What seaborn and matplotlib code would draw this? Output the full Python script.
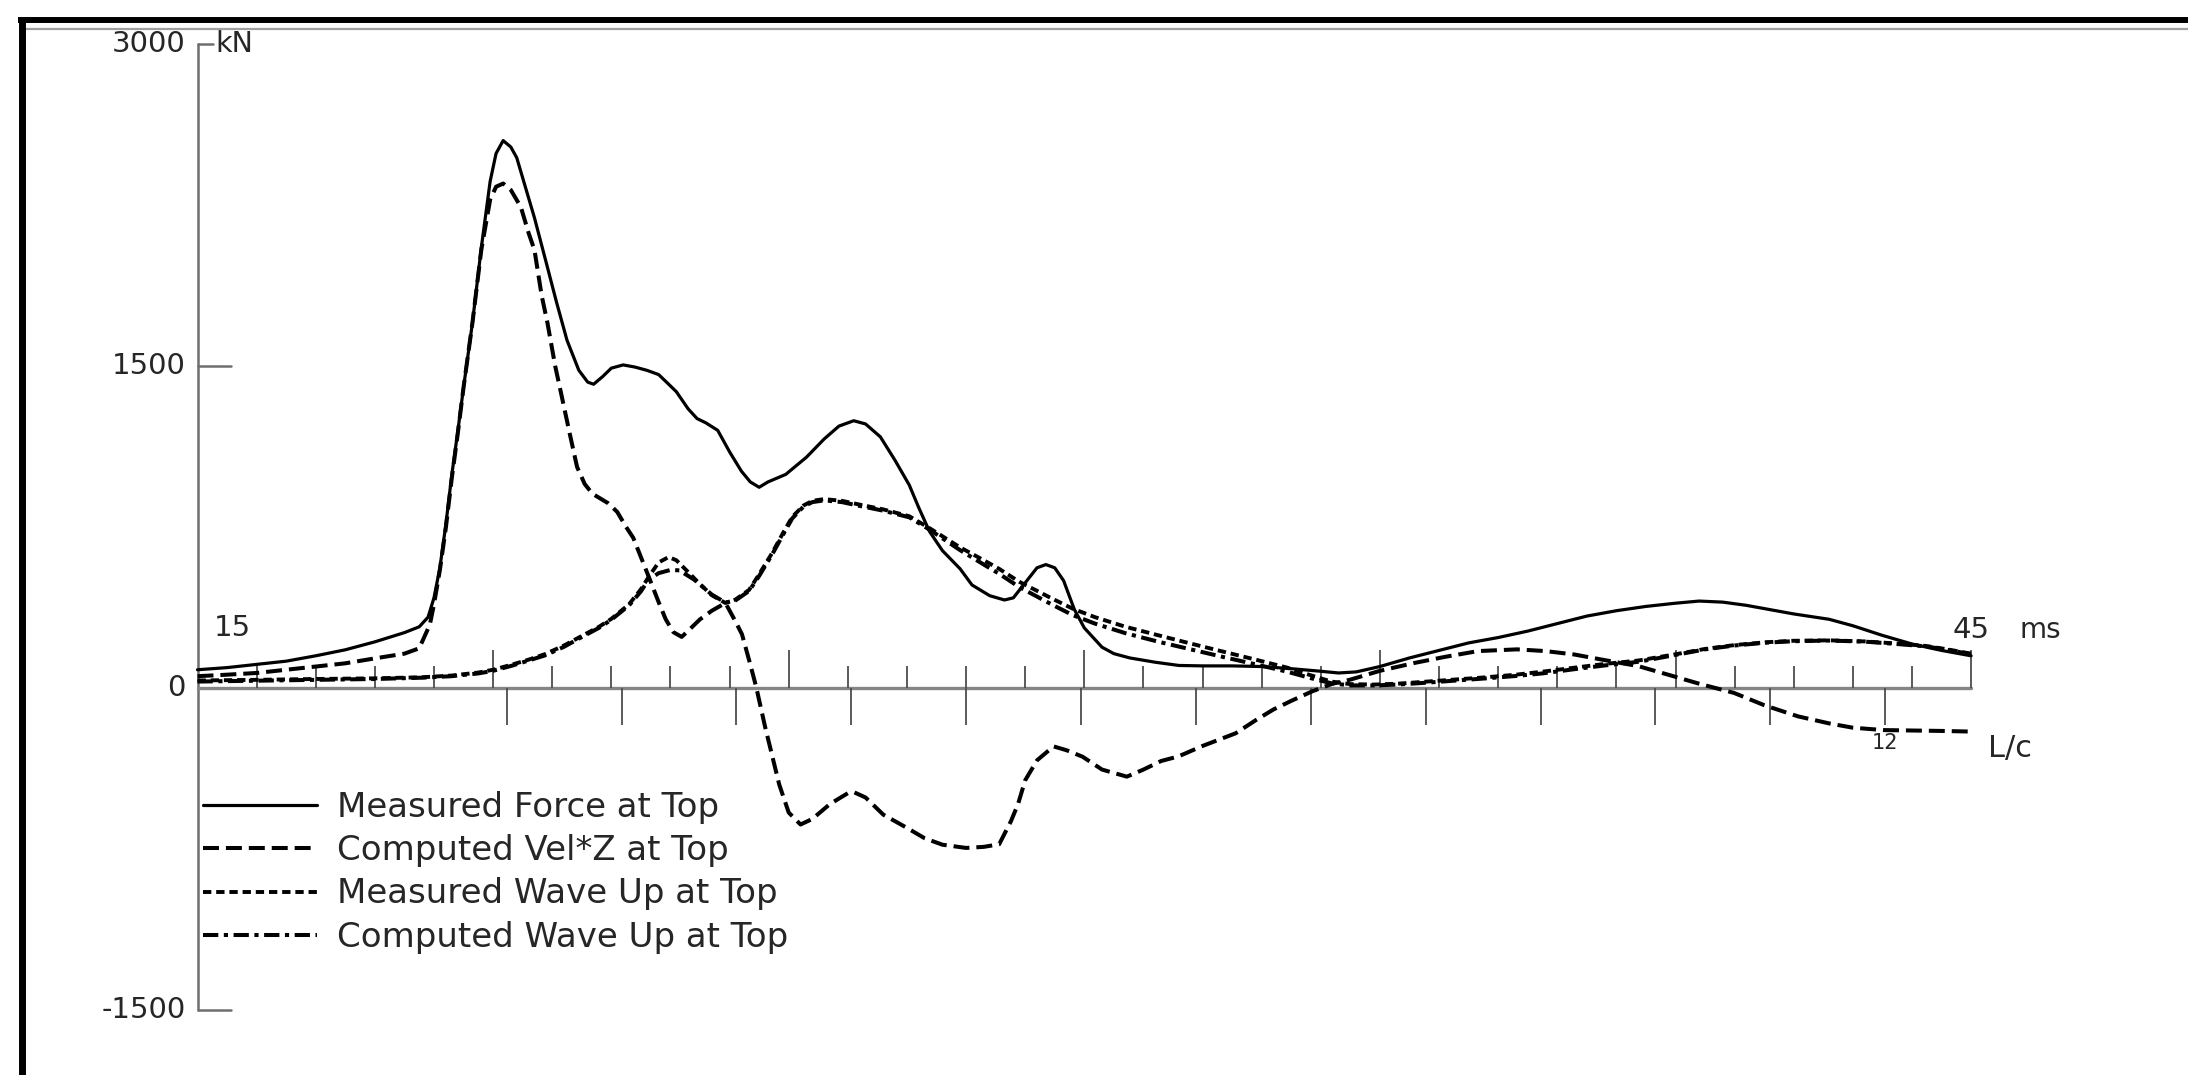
import numpy as np
import matplotlib
matplotlib.use("Agg")
import matplotlib.pyplot as plt
from matplotlib.lines import Line2D
import seaborn as sns

# ---------------------------------------------------------------- data
# time (ms), force (kN) pairs for each record
MEASURED_FORCE = np.array([
    (15.0, 85), (15.5, 95), (16.0, 110), (16.5, 125), (17.0, 150), (17.5, 178),
    (18.0, 215), (18.5, 258), (18.75, 285), (18.9, 330), (19.0, 420), (19.1, 560),
    (19.2, 760), (19.3, 990), (19.4, 1190), (19.5, 1400), (19.65, 1700), (19.8, 2050),
    (19.95, 2360), (20.05, 2490), (20.17, 2550), (20.3, 2520), (20.4, 2470),
    (20.55, 2330), (20.7, 2190), (20.9, 1980), (21.07, 1800), (21.25, 1620),
    (21.45, 1480), (21.6, 1425), (21.7, 1415), (21.85, 1450), (22.0, 1490),
    (22.2, 1505), (22.4, 1495), (22.6, 1480), (22.8, 1460), (22.97, 1415),
    (23.1, 1380), (23.3, 1300), (23.45, 1255), (23.6, 1235), (23.8, 1200),
    (24.0, 1100), (24.2, 1010), (24.35, 960), (24.5, 935), (24.65, 960),
    (24.95, 995), (25.3, 1075), (25.6, 1160), (25.85, 1220), (26.1, 1245),
    (26.3, 1230), (26.55, 1170), (26.8, 1060), (27.04, 945), (27.2, 840),
    (27.38, 730), (27.6, 640), (27.9, 555), (28.1, 480), (28.4, 430), (28.65, 410),
    (28.8, 420), (29.0, 490), (29.2, 560), (29.35, 575), (29.5, 560), (29.65, 500),
    (29.83, 367), (30.0, 280), (30.3, 190), (30.5, 160), (30.77, 140), (31.2, 120),
    (31.6, 105), (32.0, 103), (32.5, 103), (33.0, 100), (33.5, 90), (34.0, 78),
    (34.3, 70), (34.6, 75), (35.0, 100), (35.5, 140), (36.0, 175), (36.5, 210),
    (37.0, 235), (37.5, 265), (38.0, 300), (38.5, 335), (39.0, 360), (39.5, 380),
    (40.0, 395), (40.4, 405), (40.8, 400), (41.2, 385), (41.6, 365), (42.0, 345),
    (42.6, 320), (43.0, 290), (43.5, 245), (44.0, 205), (44.5, 175), (45.0, 150),
])

COMPUTED_VELZ = np.array([
    (15.0, 55), (15.5, 62), (16.0, 70), (16.5, 85), (17.0, 100), (17.5, 115),
    (18.0, 138), (18.5, 160), (18.75, 185), (18.93, 295), (19.0, 390), (19.1, 550),
    (19.2, 745), (19.3, 975), (19.4, 1180), (19.5, 1400), (19.65, 1700), (19.8, 2040),
    (19.95, 2275), (20.05, 2335), (20.17, 2350), (20.3, 2320), (20.47, 2240),
    (20.6, 2120), (20.7, 2040), (20.82, 1830), (20.92, 1700), (21.05, 1500),
    (21.16, 1360), (21.3, 1180), (21.42, 1030), (21.55, 950), (21.68, 905),
    (21.8, 885), (21.95, 860), (22.1, 820), (22.25, 750), (22.37, 700), (22.5, 610),
    (22.63, 520), (22.8, 400), (22.92, 320), (23.05, 260), (23.19, 238),
    (23.35, 280), (23.5, 320), (23.7, 360), (23.93, 396), (24.1, 310), (24.21, 250),
    (24.35, 110), (24.45, 5), (24.6, -180), (24.84, -450), (25.0, -580),
    (25.2, -636), (25.4, -610), (25.7, -540), (26.0, -490), (26.1, -485),
    (26.3, -510), (26.6, -590), (26.99, -650), (27.3, -700), (27.6, -730),
    (28.0, -745), (28.3, -740), (28.56, -728), (28.76, -620), (28.88, -540),
    (29.0, -430), (29.2, -337), (29.48, -272), (29.7, -290), (29.97, -320),
    (30.3, -380), (30.72, -413), (31.0, -380), (31.3, -340), (31.59, -319),
    (32.0, -270), (32.56, -211), (32.9, -150), (33.2, -100), (33.5, -60),
    (33.86, -15), (34.2, 20), (34.5, 39), (35.0, 80), (35.59, 117), (36.1, 145),
    (36.66, 172), (37.32, 180), (37.8, 172), (38.29, 156), (38.8, 130),
    (39.37, 102), (39.9, 60), (40.4, 20), (40.99, -23), (41.5, -80), (42.07, -132),
    (42.6, -165), (43.0, -185), (43.52, -196), (44.0, -198), (44.5, -200),
    (45.0, -203),
])

MEASURED_WAVE_UP = np.array([
    (15.0, 35), (16.0, 38), (17.0, 42), (18.0, 45), (18.8, 50), (19.3, 58),
    (19.75, 72), (20.0, 85), (20.32, 109), (20.6, 132), (20.88, 158), (21.2, 198),
    (21.45, 235), (21.79, 285), (22.0, 322), (22.3, 390), (22.5, 460), (22.63, 517),
    (22.8, 585), (22.97, 610), (23.1, 595), (23.3, 540), (23.48, 489), (23.7, 432),
    (23.93, 396), (24.1, 412), (24.33, 457), (24.5, 530), (24.72, 629), (24.9, 720),
    (25.06, 797), (25.25, 850), (25.4, 872), (25.6, 880), (25.9, 872), (26.17, 856),
    (26.6, 832), (27.04, 800), (27.38, 745), (27.9, 655), (28.3, 595), (28.56, 555),
    (28.9, 495), (29.43, 420), (29.8, 370), (30.18, 330), (30.7, 285), (31.26, 245),
    (31.8, 207), (32.34, 170), (32.9, 132), (33.43, 95), (33.8, 62), (34.18, 30),
    (34.5, 18), (34.9, 16), (35.3, 20), (35.8, 30), (36.3, 40), (36.8, 50),
    (37.3, 62), (37.75, 76), (38.3, 95), (38.8, 112), (39.37, 128), (40.02, 158),
    (40.5, 182), (41.0, 200), (41.52, 213), (42.0, 220), (42.6, 222), (43.2, 217),
    (43.7, 208), (44.23, 196), (44.6, 180), (45.0, 160),
])

COMPUTED_WAVE_UP = np.array([
    (15.0, 30), (16.0, 34), (17.0, 38), (18.0, 42), (18.8, 48), (19.3, 55),
    (19.75, 68), (20.0, 80), (20.32, 104), (20.6, 128), (20.88, 152), (21.2, 192),
    (21.45, 230), (21.79, 280), (22.0, 318), (22.3, 385), (22.5, 450), (22.63, 505),
    (22.8, 535), (23.0, 550), (23.15, 548), (23.4, 505), (23.7, 435), (23.93, 398),
    (24.1, 408), (24.33, 452), (24.5, 522), (24.72, 622), (24.9, 712), (25.06, 790),
    (25.25, 845), (25.4, 866), (25.6, 874), (25.9, 866), (26.17, 850), (26.6, 826),
    (27.04, 795), (27.38, 738), (27.9, 642), (28.3, 575), (28.56, 532), (28.9, 470),
    (29.43, 392), (29.8, 340), (30.18, 300), (30.7, 255), (31.26, 215), (31.8, 180),
    (32.34, 145), (32.9, 110), (33.43, 76), (33.8, 48), (34.18, 22), (34.5, 12),
    (34.9, 12), (35.3, 16), (35.8, 25), (36.3, 35), (36.8, 45), (37.3, 56),
    (37.75, 68), (38.3, 88), (38.8, 105), (39.37, 122), (40.02, 155), (40.5, 180),
    (41.0, 198), (41.52, 211), (42.0, 218), (42.6, 221), (43.2, 216), (43.7, 206),
    (44.23, 194), (44.6, 178), (45.0, 157),
])

SERIES_LABELS = ["Measured Force at Top", "Computed Vel*Z at Top",
                 "Measured Wave Up at Top", "Computed Wave Up at Top"]

T_START, T_END = 15, 45            # ms window
KN_TICKS = [3000, 1500, 0, -1500]  # force scale labels
KN_TICK_LABELS = ["3000", "1500", "0", "-1500"]
LC_ORIGIN = 20.23                  # time of first L/c mark (ms)
LC_PERIOD = 1.943                  # ms per L/c
LC_COUNT = 12

# ---------------------------------------------------------------- style
sns.set_theme(style="white")
plt.rcParams["font.family"] = ["DejaVu Sans"]
plt.rcParams["lines.scale_dashes"] = False

W, H, DPI = 2188, 1075, 100
fig = plt.figure(figsize=(W / DPI, H / DPI), dpi=DPI)
fig.patch.set_facecolor("white")
ax = fig.add_axes([0, 0, 1, 1])

# pixel geometry of the plotting frame
X0_PX, PX_PER_MS = 197.5, 59.12
Y0_PX, PX_PER_KN = 688.0, 0.21467
XLIM = (T_START - X0_PX / PX_PER_MS, T_START + (W - X0_PX) / PX_PER_MS)
YLIM = (-(H - Y0_PX) / PX_PER_KN, Y0_PX / PX_PER_KN)

line_styles = ["-", (0, (11.5, 5)), (0, (6, 3.5)), (0, (11, 4, 3, 4))]
line_widths = [2.3, 2.9, 2.8, 2.9]
records = [MEASURED_FORCE, COMPUTED_VELZ, MEASURED_WAVE_UP, COMPUTED_WAVE_UP]
for rec, lab, ls, lw in zip(records, SERIES_LABELS, line_styles, line_widths):
    sns.lineplot(x=rec[:, 0], y=rec[:, 1], ax=ax, color="black", lw=lw,
                 linestyle=ls, label=lab, sort=False, estimator=None, zorder=5)

ax.set_xlim(*XLIM)
ax.set_ylim(*YLIM)
ax.axis("off")

# ---------------------------------------------------------------- axes
text_c = "#262626"
ms_per_px = 1 / PX_PER_MS
kn_per_px = 1 / PX_PER_KN

# force axis
ax.plot([T_START, T_START], [KN_TICKS[-1], KN_TICKS[0]], color="#6e6e6e", lw=1.8, zorder=3)
for val, lab in zip(KN_TICKS, KN_TICK_LABELS):
    if val != 0:
        tick_len = 15 if val == KN_TICKS[0] else 33
        ax.plot([T_START, T_START + tick_len * ms_per_px], [val, val],
                color="#6e6e6e", lw=1.8, zorder=3)
    ax.text(T_START - 12 * ms_per_px, val, lab, ha="right", va="center",
            fontsize=21, color=text_c)
ax.text(T_START + 18 * ms_per_px, KN_TICKS[0], "kN", ha="left", va="center",
        fontsize=20.5, color=text_c)

# time axis
ax.plot([T_START, T_END], [0, 0], color="#858585", lw=2.4, zorder=3)
ms_minor = [t for t in range(T_START + 1, T_END) if t % 5]
ms_major = [t for t in range(T_START + 5, T_END + 1, 5)]
ax.vlines(ms_minor, 0, 22 * kn_per_px, color="#4d4d4d", lw=1.3, zorder=3)
ax.vlines(ms_major, 0, 38 * kn_per_px, color="#4d4d4d", lw=1.3, zorder=3)

lc_marks = LC_ORIGIN + LC_PERIOD * np.arange(LC_COUNT + 1)
ax.vlines(lc_marks, 0, -37 * kn_per_px, color="#4d4d4d", lw=1.3, zorder=3)

ax.text(T_START + 16 * ms_per_px, 60 * kn_per_px, str(T_START), ha="left",
        va="center", fontsize=21, color=text_c)
ax.text(T_END, 58 * kn_per_px, str(T_END), ha="center", va="center",
        fontsize=21, color=text_c)
ax.text(T_END + 48 * ms_per_px, 58 * kn_per_px, "ms", ha="left", va="center",
        fontsize=20, color=text_c)
ax.text(lc_marks[-1], -55 * kn_per_px, str(LC_COUNT), ha="center", va="center",
        fontsize=15, color=text_c)
ax.text(T_END + 17 * ms_per_px, -60 * kn_per_px, "L/c", ha="left", va="center",
        fontsize=22, color=text_c)

# legend
leg = ax.legend(loc="upper left", bbox_to_anchor=(203 / W, 1 - 791 / H),
                bbox_transform=fig.transFigure, frameon=False, fontsize=24.5,
                handlelength=3.35, handletextpad=0.6, labelspacing=0.3,
                borderpad=0, borderaxespad=0)
for txt in leg.get_texts():
    txt.set_color(text_c)

# page frame: heavy rule along the top and left edges
fig.add_artist(Line2D([18 / W, 1], [1 - 20 / H, 1 - 20 / H], transform=fig.transFigure,
                      color="black", lw=4.3, solid_capstyle="butt"))
fig.add_artist(Line2D([25 / W, 1], [1 - 29 / H, 1 - 29 / H], transform=fig.transFigure,
                      color="#a0a0a0", lw=1.6, solid_capstyle="butt"))
fig.add_artist(Line2D([21.5 / W, 21.5 / W], [0, 1 - 17 / H], transform=fig.transFigure,
                      color="black", lw=5, solid_capstyle="butt"))

fig.savefig("out.png", dpi=DPI, facecolor="white")
